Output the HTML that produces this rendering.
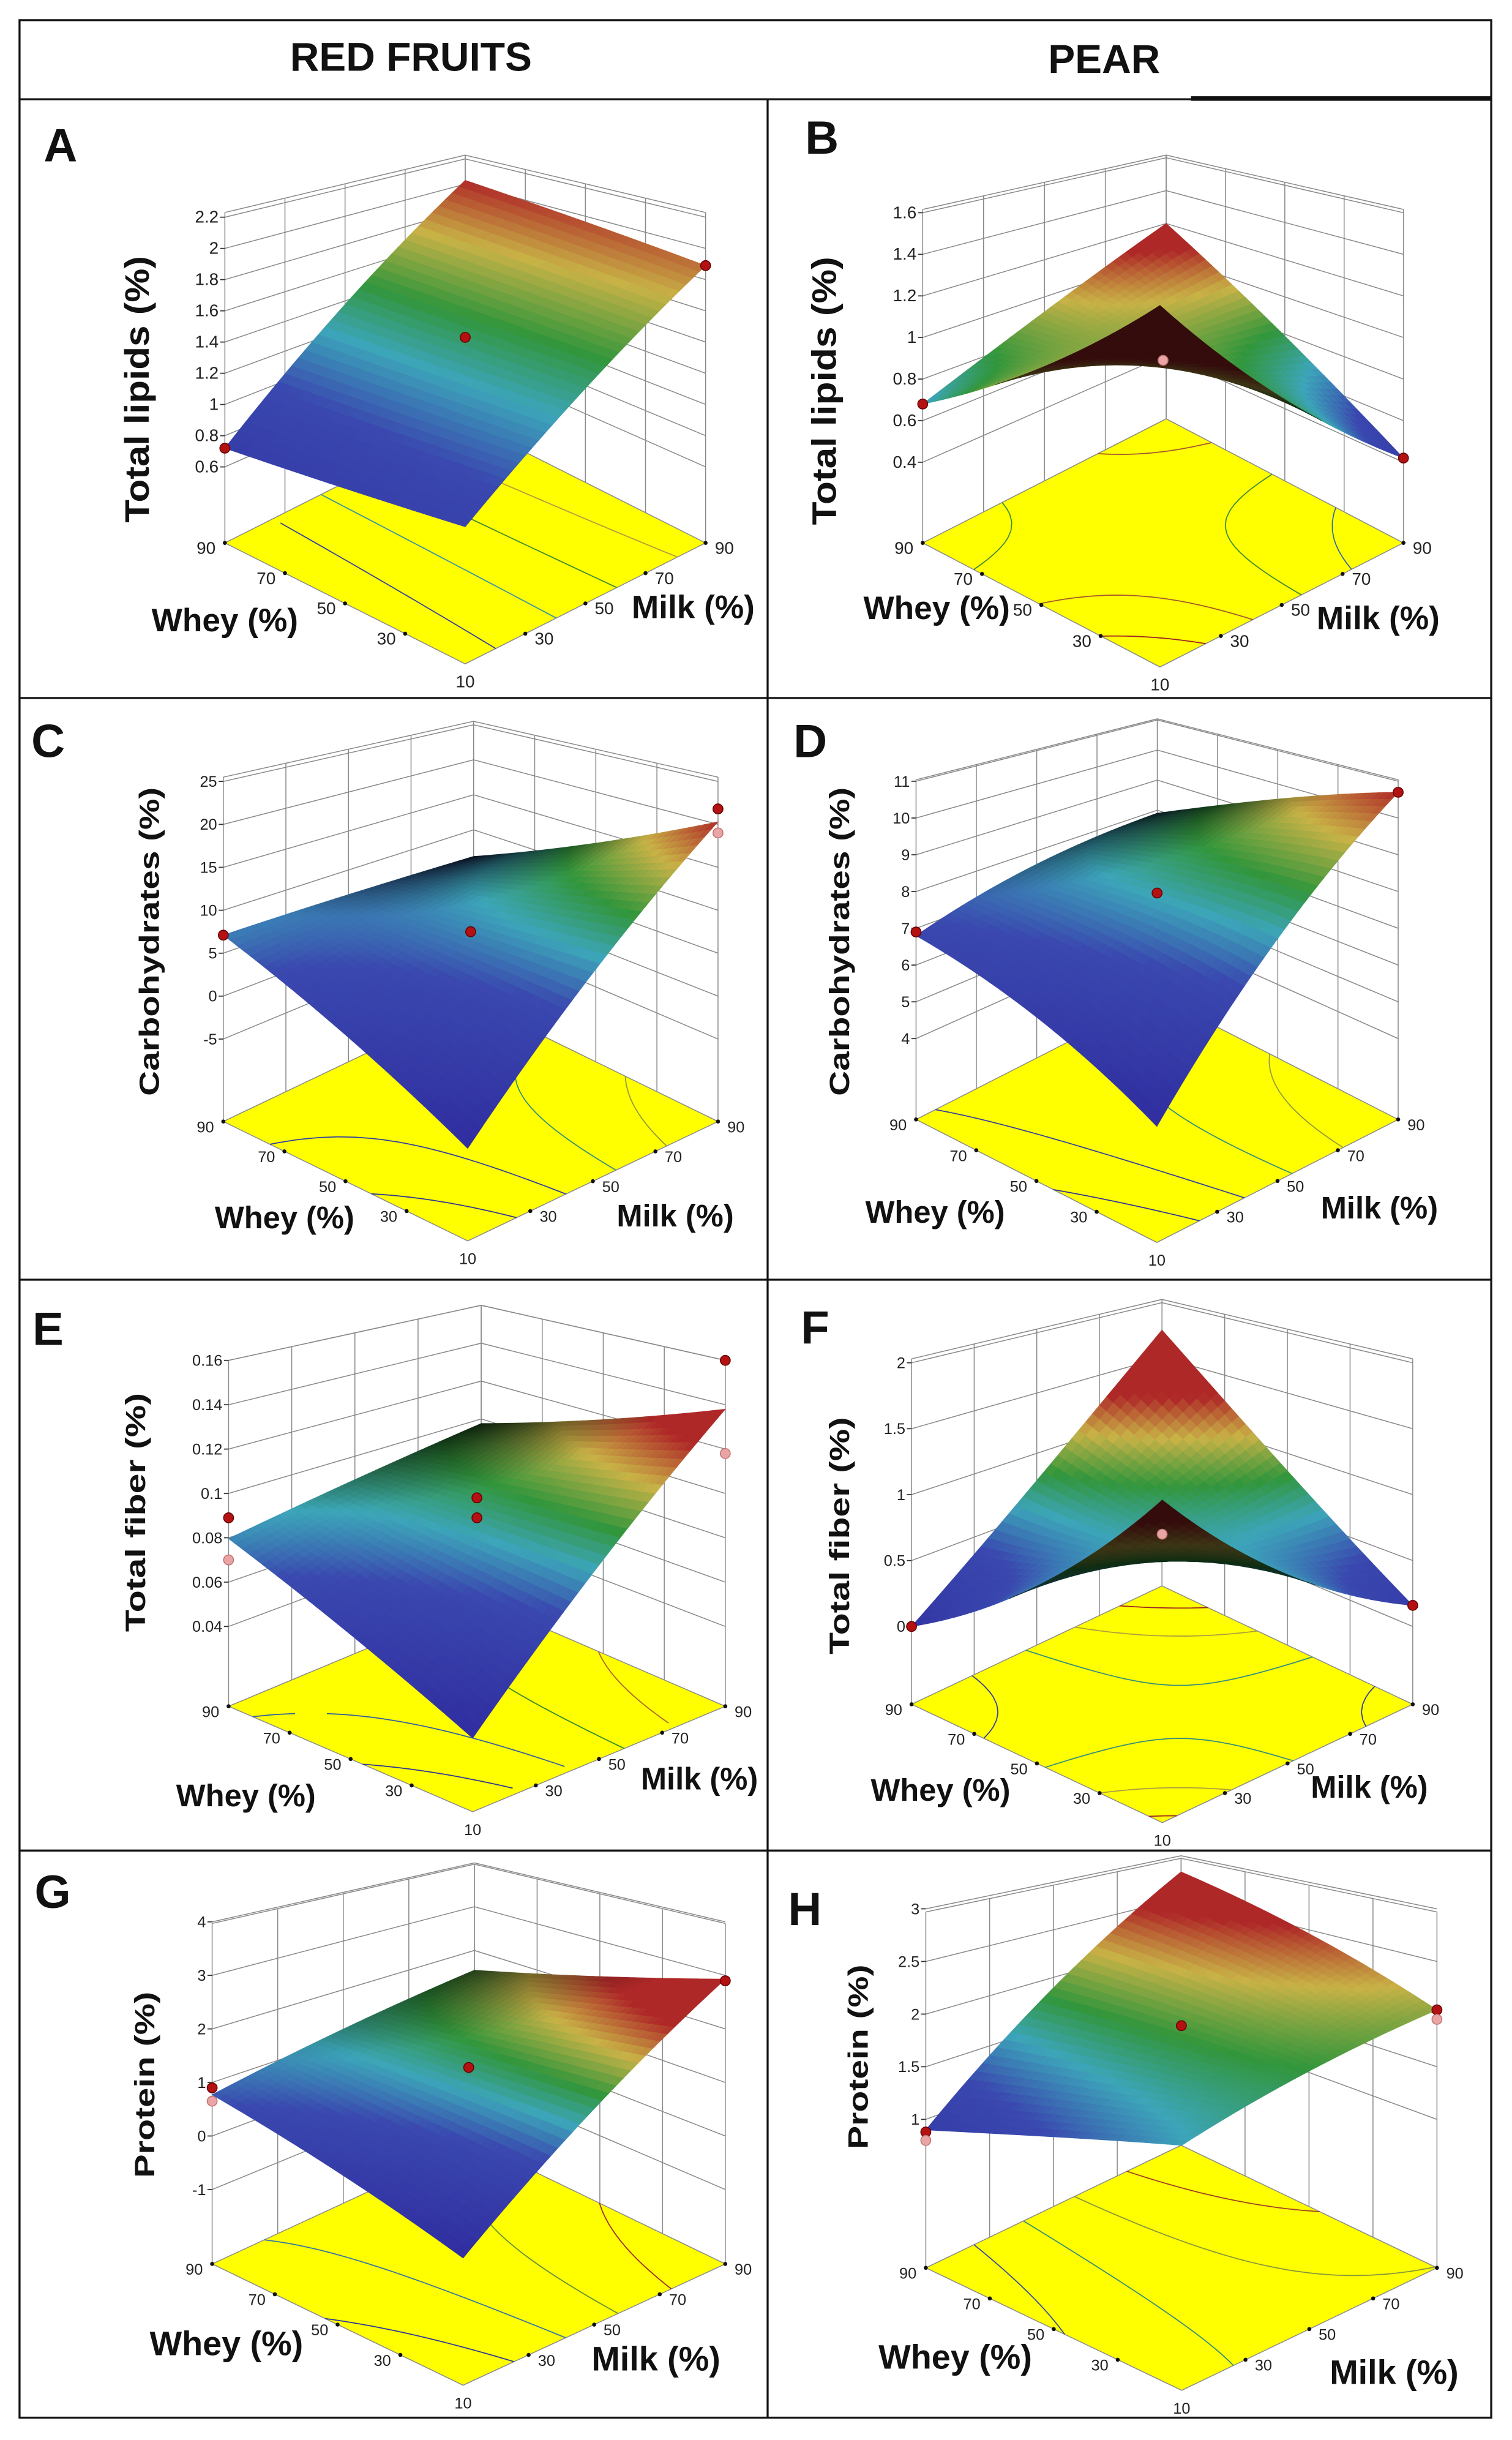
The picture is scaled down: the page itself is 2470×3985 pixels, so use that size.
<!DOCTYPE html>
<html><head><meta charset="utf-8"><title>Response surfaces</title>
<style>html,body{margin:0;padding:0;background:#fff}svg{display:block}text{font-family:"Liberation Sans",Arial,sans-serif}</style>
</head><body>
<svg id="fig" xmlns="http://www.w3.org/2000/svg" width="2470" height="3985" viewBox="0 0 975 1573" preserveAspectRatio="none">
<rect x="0" y="0" width="975" height="1573" fill="#fff"/>
<g stroke="#111" fill="none">
<rect x="12.6" y="13" width="949" height="1545.6" stroke-width="1.3"/>
<line x1="12.6" y1="64" x2="961.6" y2="64" stroke-width="1.3"/>
<line x1="768" y1="63.5" x2="961.6" y2="63.5" stroke-width="3"/>
<line x1="12.6" y1="450" x2="961.6" y2="450" stroke-width="1.3"/>
<line x1="12.6" y1="825" x2="961.6" y2="825" stroke-width="1.3"/>
<line x1="12.6" y1="1193" x2="961.6" y2="1193" stroke-width="1.3"/>
<line x1="495" y1="64" x2="495" y2="1558" stroke-width="1.3"/>
</g>
<text x="265" y="45.5" font-size="26" font-weight="bold" text-anchor="middle" fill="#111">RED FRUITS</text>
<text x="712" y="47" font-size="26" font-weight="bold" text-anchor="middle" fill="#111">PEAR</text>
</svg>
<script>
// ---- data ----
const zTicksA=[0.6,0.8,1,1.2,1.4,1.6,1.8,2,2.2];
const surfA=[0.85,1.89,2.03,0.72]; // front, right(milk 90), back, left(whey 90)
const curvA=[0,0];
const ptsA=[[0,1,0.72,0],[1,0,1.89,0],[0.5,0.5,1.43,0]];

const zTicksB=[0.4,0.6,0.8,1,1.2,1.4,1.6];
const surfB=[1.45,0.42,1.2,0.68];
const curvB=[-0.02,-0.02];
const ptsB=[[0,1,0.68,0],[1,0,0.42,0],[0.5,0.5,0.89,1]];

const zTicksC=[-5,0,5,10,15,20,25];
const surfC=[-5.5,20.3,6.2,7.1];
const curvC=[0.2,0.2];
const ptsC=[[0,1,7.1,0],[1,0,21.8,0],[1,0,19,1],[0.5,0.5,7.5,0]];

const zTicksD=[4,5,6,7,8,9,10,11];
const surfD=[4.47,10.7,7.9,6.8];
const curvD=[0.25,0.25];
const ptsD=[[0,1,6.9,0],[1,0,10.7,0],[0.5,0.5,7.96,0]];

const zTicksE=[0.04,0.06,0.08,0.1,0.12,0.14,0.16];
const surfE=[0.033,0.138,0.0976,0.0796];
const curvE=[0,0];
const ptsE=[[0,1,0.089,0],[0,1,0.07,1],[1,0,0.16,0],[1,0,0.118,1],[0.5,0.5,0.098,0],[0.5,0.5,0.089,0]];

const zTicksF=[0,0.5,1,1.5,2];
const surfF=[1.5,0.16,1.75,0.0];
const curvF=[-0.1,-0.1];
const ptsF=[[0,1,0,0],[1,0,0.16,0],[0.5,0.5,0.7,1]];

const zTicksG=[-1,0,1,2,3,4];
const surfG=[-0.38,2.93,1.55,0.77];
const curvG=[0.03,0.03];
const ptsG=[[0,1,0.9,0],[0,1,0.65,1],[1,0,2.9,0],[0.5,0.5,1.28,0]];

const zTicksH=[1,1.5,2,2.5,3];
const surfH=[1.54,2.04,2.81,0.9];
const curvH=[0.035,0.035];
const ptsH=[[0,1,0.88,0],[0,1,0.8,1],[1,0,2.04,0],[1,0,1.95,1],[0.5,0.5,1.89,0]];

const wheyTicks=[90,70,50,30];
const milkTicks=[30,50,70,90];

// ---- layout (geometry only) ----
const panels=[
 {id:'a',letter:'A',ticks:zTicksA,surf:surfA,curv:curvA,pts:ptsA,title:'Total lipids (%)',L:[145,350],F:[300,428],R:[455,350],Hb:172,Hf:254,zlo:0.113,zhi:2.23,dark:0,cmin:0.3,lt:[39,93],ztx:88,zty:251,ztl:172,zfs:22,tfs:11,wt:[145,399.5],mt:[447,391],afs:21},
 {id:'b',letter:'B',ticks:zTicksB,surf:surfB,curv:curvB,pts:ptsB,title:'Total lipids (%)',L:[595,350],F:[748,430],R:[905,350],Hb:170,Hf:260,zlo:0.012,zhi:1.616,dark:0,cmin:0.2,cmax:1.1,lt:[530,88],ztx:531,zty:252,ztl:173,zfs:22,tfs:11,wt:[604,391.6],mt:[888.7,398],afs:21},
 {id:'c',letter:'C',ticks:zTicksC,surf:surfC,curv:curvC,pts:ptsC,title:'Carbohydrates (%)',L:[144,723],F:[301.6,800],R:[463,723],Hb:181,Hf:263,zlo:-14.6,zhi:25.5,dark:0.85,lt:[31,477],ztx:96,zty:607,ztl:199,zfs:18,tfs:10,wt:[183.5,784.7],mt:[435.4,783.5],afs:20},
 {id:'d',letter:'D',ticks:zTicksD,surf:surfD,curv:curvD,pts:ptsD,title:'Carbohydrates (%)',L:[590.7,721.7],F:[746,801],R:[901.6,721.7],Hb:179,Hf:259,zlo:1.8,zhi:11.04,dark:0.85,lt:[522.5,477],ztx:541,zty:607,ztl:199,zfs:18,tfs:10,wt:[603,781],mt:[889.5,778.4],afs:20},
 {id:'e',letter:'E',ticks:zTicksE,surf:surfE,curv:curvE,pts:ptsE,title:'Total fiber (%)',L:[147.4,1100],F:[304.8,1168],R:[467.7,1100],Hb:190.5,Hf:255.5,zlo:0.004,zhi:0.16,dark:0.8,cmax:0.125,lt:[31,856],ztx:87,zty:975,ztl:154,zfs:18,tfs:10,wt:[158.6,1157.3],mt:[451,1146.5],afs:20},
 {id:'f',letter:'F',ticks:zTicksF,surf:surfF,curv:curvF,pts:ptsF,title:'Total fiber (%)',L:[587.8,1098.7],F:[749.5,1175],R:[911,1098.7],Hb:184.7,Hf:260.7,zlo:-0.59,zhi:2.03,dark:0,cmin:-0.2,cmax:1.3,lt:[525.6,855],ztx:541,zty:990,ztl:153,zfs:18,tfs:10,wt:[606.5,1153.8],mt:[883,1151.8],afs:20},
 {id:'g',letter:'G',ticks:zTicksG,surf:surfG,curv:curvG,pts:ptsG,title:'Protein (%)',L:[136.8,1459.5],F:[298.6,1537.7],R:[467.7,1459.5],Hb:179.5,Hf:259.5,zlo:-2.39,zhi:3.97,dark:0.6,cmax:2.3,lt:[34,1219],ztx:93,zty:1344,ztl:120,zfs:18,tfs:10,wt:[146,1510.4],mt:[423,1520.3],afs:22},
 {id:'h',letter:'H',ticks:zTicksH,surf:surfH,curv:curvH,pts:ptsH,title:'Protein (%)',L:[597,1462],F:[762,1541],R:[926.6,1462],Hb:185,Hf:273.8,zlo:-0.41,zhi:2.97,dark:0,cmin:0.4,cmax:2.5,lt:[519,1230],ztx:553,zty:1326,ztl:119,zfs:18,tfs:10,wt:[616,1519.1],mt:[899,1529],afs:22}
];

const NS='http://www.w3.org/2000/svg';
const svg=document.getElementById('fig');
function mk(tag,attrs,parent){const e=document.createElementNS(NS,tag);for(const k in attrs)e.setAttribute(k,attrs[k]);parent.appendChild(e);return e;}

const stops=[[0,[48,45,160]],[0.4,[58,72,175]],[0.55,[60,165,185]],[0.68,[50,150,60]],[0.84,[200,178,70]],[1,[175,40,40]]];
function cmap(t){t=Math.max(0,Math.min(1,t));for(let i=1;i<stops.length;i++){if(t<=stops[i][0]){const a=stops[i-1],b=stops[i];const f=(t-a[0])/(b[0]-a[0]);return a[1].map((v,k)=>v+(b[1][k]-v)*f);}}return stops[stops.length-1][1];}
function rgb(c){return 'rgb('+c.map(v=>Math.round(Math.max(0,Math.min(255,v)))).join(',')+')';}

function zAt(p,u,w){const s=p.surf,c=p.curv;return s[0]*(1-u)*(1-w)+s[1]*u*(1-w)+s[2]*u*w+s[3]*(1-u)*w+c[0]*4*u*(1-u)+c[1]*4*w*(1-w);}
function proj(p,u,w,z){const x=p.F[0]+u*(p.R[0]-p.F[0])+w*(p.L[0]-p.F[0]);const yb=p.F[1]+u*(p.R[1]-p.F[1])+w*(p.L[1]-p.F[1]);const d=1-(u+w)/2;const H=p.Hb+(p.Hf-p.Hb)*d;const f=(z-p.zlo)/(p.zhi-p.zlo);return [x,yb-f*H];}
function pt(a){return a[0].toFixed(2)+','+a[1].toFixed(2);}

panels.forEach(p=>{
  const g=mk('g',{},svg);
  
  

  const grid=mk('g',{stroke:'#8a8a8a','stroke-width':0.6,fill:'none'},g);
  
  
  for(let k=0;k<=4;k++){const f=k/4;
    const a1=proj(p,f,1,p.zlo),a2=proj(p,f,1,p.zhi);
    const l1=mk('line',{x1:a1[0],y1:a1[1],x2:a2[0],y2:a2[1]},grid);
    
    
    const b1=proj(p,1,f,p.zlo),b2=proj(p,1,f,p.zhi);
    const l2=mk('line',{x1:b1[0],y1:b1[1],x2:b2[0],y2:b2[1]},grid);
    
    
  }
  p.ticks.concat([p.zhi]).forEach(v=>{
    const a=proj(p,0,1,v),b=proj(p,1,1,v),c=proj(p,1,0,v);
    const pl=mk('polyline',{points:pt(a)+' '+pt(b)+' '+pt(c)},grid);
    
    
  });

  const fl=[proj(p,0,0,p.zlo),proj(p,1,0,p.zlo),proj(p,1,1,p.zlo),proj(p,0,1,p.zlo)];
  const floor=mk('polygon',{points:fl.map(pt).join(' '),fill:'#ffff00',stroke:'#8a8a8a','stroke-width':0.6},g);
  
  

  const N=36;let zmin=1e9,zmax=-1e9;
  for(let i=0;i<=N;i++)for(let j=0;j<=N;j++){const z=zAt(p,i/N,j/N);zmin=Math.min(zmin,z);zmax=Math.max(zmax,z);}
  const cmin=(p.cmin!==undefined)?p.cmin:zmin, cmax=(p.cmax!==undefined)?p.cmax:zmax;

  const cg=mk('g',{'stroke-width':0.7,fill:'none'},g);
  
  
  const M=30;
  for(let L=1;L<=4;L++){
    const lev=zmin+(zmax-zmin)*L/5;
    const col=cmap((lev-cmin)/(cmax-cmin)).map(v=>v*0.9);
    let d='';
    for(let i=0;i<M;i++)for(let j=0;j<M;j++){
      const u0=i/M,u1=(i+1)/M,w0=j/M,w1=(j+1)/M;
      const c=[[u0,w0],[u1,w0],[u1,w1],[u0,w1]];
      const zs=c.map(q=>zAt(p,q[0],q[1]));
      const cr=[];
      for(let e=0;e<4;e++){const a=e,b=(e+1)%4;if((zs[a]-lev)*(zs[b]-lev)<0){const t=(lev-zs[a])/(zs[b]-zs[a]);cr.push([c[a][0]+(c[b][0]-c[a][0])*t,c[a][1]+(c[b][1]-c[a][1])*t]);}}
      for(let k=0;k+1<cr.length;k+=2){const A=proj(p,cr[k][0],cr[k][1],p.zlo),B=proj(p,cr[k+1][0],cr[k+1][1],p.zlo);d+='M'+pt(A)+'L'+pt(B);}
    }
    if(d){const cp=mk('path',{d:d,stroke:rgb(col)},cg);
      
      }
  }

  const tg=mk('g',{'font-size':p.tfs,fill:'#222'},g);
  
  
  wheyTicks.forEach(v=>{const w=(v-10)/80;const q=proj(p,0,w,p.zlo);
    const dt=mk('circle',{cx:q[0],cy:q[1],r:1.3,fill:'#111'},tg);
    
    
    const t=mk('text',{x:q[0]-6,y:q[1]+7,'text-anchor':'end'},tg);t.textContent=String(v);
    
    });
  milkTicks.forEach(v=>{const u=(v-10)/80;const q=proj(p,u,0,p.zlo);
    const dt=mk('circle',{cx:q[0],cy:q[1],r:1.3,fill:'#111'},tg);
    
    
    const t=mk('text',{x:q[0]+6,y:q[1]+7,'text-anchor':'start'},tg);t.textContent=String(v);
    
    });
  {const q=proj(p,0,0,p.zlo);const t=mk('text',{x:q[0],y:q[1]+15,'text-anchor':'middle'},tg);t.textContent='10';
    
    }

  p.ticks.forEach(v=>{const q=proj(p,0,1,v);
    const tl=mk('line',{x1:q[0]-3,y1:q[1],x2:q[0],y2:q[1],stroke:'#333','stroke-width':0.7},tg);
    
    
    const t=mk('text',{x:q[0]-4,y:q[1]+3.5,'text-anchor':'end'},tg);t.textContent=String(v);
    
    });

  const sg=mk('g',{'stroke-width':0.35},g);
  
  
  const quads=[];
  for(let i=0;i<N;i++)for(let j=0;j<N;j++)quads.push([i,j]);
  quads.sort((a,b)=>(b[0]+b[1])-(a[0]+a[1]));
  quads.forEach(([i,j])=>{
    const c=[[i/N,j/N],[(i+1)/N,j/N],[(i+1)/N,(j+1)/N],[i/N,(j+1)/N]];
    const zs=c.map(q=>zAt(p,q[0],q[1]));
    const P=c.map((q,k)=>proj(p,q[0],q[1],zs[k]));
    const zm=(zs[0]+zs[1]+zs[2]+zs[3])/4;
    let col=cmap((zm-cmin)/(cmax-cmin));
    const cross=(P[1][0]-P[0][0])*(P[3][1]-P[0][1])-(P[1][1]-P[0][1])*(P[3][0]-P[0][0]);
    const d=1-((i+j+1)/N)/2;
    if(cross>0){col=col.map(v=>v*0.3);}
    else if(p.dark>0){const f=1-p.dark*Math.max(0,1-d/0.38);col=col.map(v=>v*f);}
    const s=rgb(col);
    const poly=mk('polygon',{points:P.map(pt).join(' '),fill:s,stroke:s},sg);
    
    
  });

  p.pts.forEach(d=>{const q=proj(p,d[0],d[1],d[2]);
    const c=mk('circle',{cx:q[0],cy:q[1],r:3.2,fill:d[3]?'#e9a5a5':'#b41212',stroke:d[3]?'#c07070':'#600','stroke-width':0.6},g);
    
    });

  const lt=mk('text',{x:p.lt[0],y:p.lt[1]+11,'font-size':30,'font-weight':'bold','text-anchor':'middle',fill:'#111'},g);
  lt.textContent=p.letter;
  
  
  const zt=mk('text',{x:0,y:0,'font-size':p.zfs,'font-weight':'bold','text-anchor':'middle',fill:'#111',textLength:p.ztl,lengthAdjust:'spacingAndGlyphs',transform:'translate('+(p.ztx+p.zfs*0.36)+','+p.zty+') rotate(-90)'},g);
  zt.textContent=p.title;
  
  
  const wt=mk('text',{x:p.wt[0],y:p.wt[1]+p.afs*0.36,'font-size':p.afs,'font-weight':'bold','text-anchor':'middle',fill:'#111'},g);
  wt.textContent='Whey (%)';
  
  
  const mt=mk('text',{x:p.mt[0],y:p.mt[1]+p.afs*0.36,'font-size':p.afs,'font-weight':'bold','text-anchor':'middle',fill:'#111'},g);
  mt.textContent='Milk (%)';
  
  
});
</script>
</body></html>
